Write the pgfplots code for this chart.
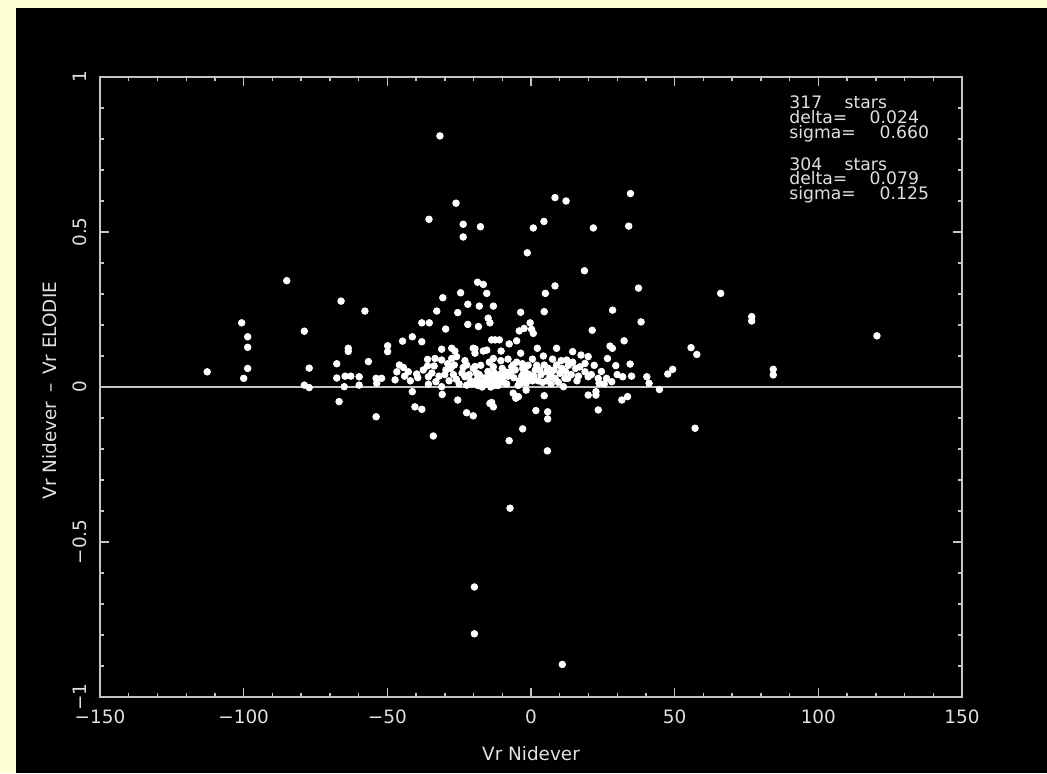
\documentclass[border=0pt]{standalone}
\usepackage{pgfplots}
\pgfplotsset{compat=1.18}
\usepackage{fontspec}
\setmainfont{DejaVu Sans}
\definecolor{bgyellow}{HTML}{FFFFD6}
\definecolor{axgray}{HTML}{C4C4C4}
\definecolor{txt}{HTML}{E0E0E0}
\newcommand{\ff}{\fontsize{9.2}{11}\selectfont}
\newcommand{\fa}{\fontsize{8.6}{10}\selectfont}
\begin{document}
\begin{tikzpicture}[x=0.5pt,y=0.5pt]
\useasboundingbox (0,0) rectangle (1047,773);
\fill[bgyellow] (0,0) rectangle (1047,773);
\fill[black] (16,0) rectangle (1047,765);
\begin{axis}[
  at={(50pt,38pt)}, anchor=south west,
  scale only axis, width=431pt, height=310pt,
  xmin=-150, xmax=150, ymin=-1, ymax=1,
  axis line style={axgray, line width=0.9pt},
  tick style={axgray, line width=0.7pt},
  tick align=inside, tick pos=both,
  major tick length=4.5pt, minor tick length=2pt,
  xtick={-150,-100,-50,0,50,100,150},
  xticklabels={−150,−100,−50,0,50,100,150},
  ytick={-1,-0.5,0,0.5,1},
  yticklabels={−1,−0.5,0,0.5,1},
  minor x tick num=4, minor y tick num=4,
  ticklabel style={font=\ff, text=txt, inner sep=0pt},
  xticklabel shift=6pt,
  yticklabel style={rotate=90},
  yticklabel shift=6.5pt,
  xlabel={Vr Nidever},
  ylabel={Vr Nidever \,–\, Vr ELODIE},
  label style={font=\ff, text=txt, inner sep=0pt},
  xlabel style={at={(axis description cs:0.5,-0.092)}, anchor=center},
  ylabel style={at={(axis description cs:-0.058,0.494)}, anchor=center, rotate=0},
  clip=false,
]
\addplot[axgray, line width=0.9pt] coordinates {(-150,0) (150,0)};
\addplot[only marks, mark=*, mark size=1.65pt, mark options={draw=white, fill=white}] table {
x y
-112.7 0.049
-100.7 0.207
-98.6 0.162
-98.6 0.128
-98.6 0.060
-100.0 0.028
-85.0 0.343
-78.9 0.180
-77.2 0.061
-78.9 0.006
-77.2 -0.002
-67.6 0.075
-63.6 0.125
-63.6 0.115
-66.1 0.277
-57.8 0.245
-56.6 0.082
-67.6 0.029
-64.7 0.035
-62.7 0.035
-59.8 0.033
-59.8 0.006
-65.0 0.001
-66.8 -0.047
-53.9 0.028
-52.0 0.028
-53.7 0.012
-53.9 -0.096
-49.9 0.133
-49.9 0.114
-46.7 0.049
-45.8 0.071
-44.4 0.063
-47.3 0.023
-42.7 0.049
-39.8 0.042
-39.4 0.030
-44.7 0.148
-41.3 0.162
-38.0 0.207
-35.4 0.207
-38.0 0.146
-32.8 0.245
-30.7 0.288
-29.7 0.187
-24.5 0.304
-22.0 0.267
-25.5 0.240
-18.0 0.261
-15.4 0.302
-18.6 0.338
-16.6 0.331
-13.1 0.261
-22.0 0.202
-18.3 0.195
-14.9 0.222
-14.3 0.207
-36.0 0.089
-33.4 0.092
-36.0 0.068
-33.7 0.068
-31.1 0.122
-31.1 0.087
-27.6 0.125
-26.5 0.116
-25.9 0.098
-27.6 0.092
-26.7 0.071
-29.6 0.055
-35.7 0.033
-35.7 0.009
-33.1 0.017
-31.1 0.001
-30.9 -0.024
-41.3 -0.015
-40.4 -0.064
-38.0 -0.072
-34.0 -0.158
-25.5 -0.042
-22.4 -0.083
-20.1 -0.093
-23.0 0.033
-22.4 0.006
-20.1 0.125
-19.5 0.109
-20.1 0.060
-17.8 0.017
-16.6 0.006
-15.4 0.119
-13.1 0.092
-14.3 -0.053
-13.1 -0.064
-12.5 0.152
-23.6 0.063
-31.7 0.810
-26.1 0.593
-35.5 0.541
-23.6 0.525
-23.6 0.484
-17.6 0.517
8.35 0.611
12.2 0.600
34.6 0.624
34.0 0.519
4.5 0.534
0.8 0.513
21.7 0.513
-1.3 0.433
18.6 0.375
8.35 0.326
5.0 0.302
37.4 0.319
66.0 0.302
76.8 0.227
76.8 0.213
84.3 0.057
84.3 0.039
55.7 0.127
57.7 0.105
57.1 -0.133
47.6 0.042
49.3 0.057
44.7 -0.008
40.3 0.033
41.1 0.012
35.0 0.035
34.5 0.074
31.9 0.033
32.4 0.149
38.3 0.210
28.4 0.248
21.3 0.183
27.5 0.132
28.3 0.125
29.5 0.069
26.6 0.092
26.3 0.028
28.1 0.017
23.4 0.028
23.7 0.012
22.6 -0.015
22.6 -0.026
23.4 -0.074
31.6 -0.042
33.6 -0.031
19.9 -0.026
19.9 0.098
17.4 0.103
14.5 0.114
18.8 0.076
18.8 0.049
19.9 0.033
12.4 0.087
8.9 0.125
2.2 0.125
12.8 0.028
11.3 0.001
4.6 -0.028
1.7 -0.076
5.8 -0.080
5.8 -0.103
-2.9 -0.135
-7.6 -0.173
5.7 -0.206
-6.2 -0.020
-5.3 -0.036
-4.4 -0.031
-13.7 -0.050
-3.6 0.241
4.6 0.243
-4.1 0.181
-2.4 0.189
-0.3 0.207
0.2 0.186
0.8 0.173
-7.6 0.139
-5.0 0.149
-11.0 0.152
-13.7 0.152
-10.4 0.116
-3.6 0.109
-19.5 0.123
-16.6 0.116
-22.4 0.071
-19.5 0.066
-13.1 0.065
-12.8 0.046
-9.0 0.049
-6.7 0.065
-6.2 0.071
-2.9 0.060
-2.7 0.042
8.9 0.071
10.7 0.060
10.1 0.044
8.4 0.028
11.8 0.028
4.6 0.071
5.5 0.049
6.6 0.033
-1.3 0.028
-1.7 0.012
-3.2 0.035
-2.9 0.015
-9.6 0.033
-11.4 0.023
-12.5 0.006
4.3 0.100
-7.3 -0.391
-19.7 -0.645
-19.7 -0.796
10.9 -0.895
120.4 0.165
-1.7 -0.010
-18.5 0.030
-15.0 0.020
-14.0 0.035
-19.0 0.045
-17.0 0.000
-15.5 0.010
-21.0 0.020
-10.0 0.060
-8.0 0.090
-5.0 0.080
-1.0 0.070
1.5 0.055
2.5 0.020
3.5 0.040
0.5 0.090
7.5 0.090
7.0 0.010
14.0 0.040
15.5 0.060
16.0 0.020
13.0 0.070
-28.5 0.020
-27.0 0.040
-25.0 0.010
-29.0 0.075
-8.5 0.010
-6.0 0.030
-4.5 0.005
-44.0 0.035
-42.0 0.020
-37.5 0.055
-34.5 0.045
-32.0 0.035
-30.0 0.040
-28.0 0.060
-26.0 0.025
-24.0 0.045
-23.0 0.085
-21.5 0.040
-20.5 0.010
-19.0 0.020
-18.0 0.040
-17.5 0.070
-16.0 0.030
-15.0 0.050
-14.5 0.080
-13.5 0.015
-12.0 0.030
-11.0 0.040
-10.5 0.085
-9.5 0.015
-8.0 0.035
-7.0 0.050
-5.5 0.055
-4.0 0.020
-3.0 0.075
-2.0 0.050
-0.5 0.040
0.5 0.020
1.0 0.035
2.0 0.070
3.0 0.055
4.0 0.015
5.5 0.020
6.0 0.060
7.0 0.045
8.0 0.055
9.5 0.015
10.5 0.085
12.0 0.050
14.5 0.080
16.5 0.035
17.0 0.065
21.0 0.040
22.0 0.070
24.5 0.050
25.5 0.010
30.0 0.040
-18.5 0.005
-16.0 0.015
-14.0 0.000
-11.5 0.005
};
\end{axis}
\begin{scope}[every node/.style={anchor=base west, inner sep=0pt, font=\fa, text=txt}]
\node at (789,664.7) {317};
\node at (844.3,664.7) {stars};
\node at (789,649.7) {delta=};
\node at (869.3,649.7) {0.024};
\node at (789,634.7) {sigma=};
\node at (879.3,634.7) {0.660};
\node at (789,603) {304};
\node at (844.3,603) {stars};
\node at (789,588.3) {delta=};
\node at (869.3,588.3) {0.079};
\node at (789,573.2) {sigma=};
\node at (879.3,573.2) {0.125};
\end{scope}
\end{tikzpicture}
\end{document}
